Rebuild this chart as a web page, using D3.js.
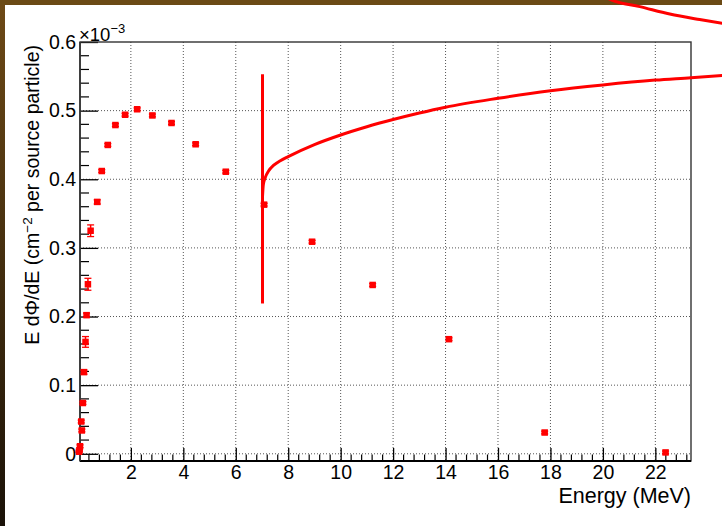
<!DOCTYPE html>
<html>
<head>
<meta charset="utf-8">
<script src="https://cdn.jsdelivr.net/npm/d3@7"></script>
<style>
  html, body { margin: 0; padding: 0; background: #fff; }
  svg { display: block; font-family: "Liberation Sans", Arial, Helvetica, sans-serif; }
</style>
</head>
<body>
<div id="chart"></div>
<script>
// energy bins (MeV) and E dPhi/dE (x 1e-3)
const energy = [0.02, 0.04, 0.06, 0.107, 0.13, 0.17, 0.21, 0.27, 0.31, 0.362, 0.465, 0.717, 0.89, 1.12, 1.41, 1.78, 2.24, 2.82, 3.55, 4.47, 5.62, 7.08, 8.91, 11.22, 14.13, 17.78, 22.39];
const flux   = [0.003, 0.005, 0.011, 0.047, 0.034, 0.074, 0.119, 0.163, 0.202, 0.247, 0.325, 0.367, 0.412, 0.450, 0.479, 0.494, 0.502, 0.493, 0.482, 0.451, 0.411, 0.363, 0.309, 0.246, 0.167, 0.031, 0.002];
const fluxErr = [0.001, 0.001, 0.002, 0.002, 0.002, 0.002, 0.003, 0.0078, 0.003, 0.0087, 0.0085, 0.003, 0.002, 0.002, 0.002, 0.002, 0.002, 0.002, 0.002, 0.002, 0.002, 0.002, 0.002, 0.002, 0.002, 0.002, 0.002];

// fit function
const fitE = [7.02, 7.05, 7.12, 7.25, 7.45, 7.7, 8.0, 9, 10, 11, 12, 13, 14, 16, 18, 20, 22, 23.36, 24.6];
const fitY = [0.375, 0.392, 0.402, 0.412, 0.4205, 0.427, 0.433, 0.4505, 0.4645, 0.4765, 0.487, 0.4965, 0.505, 0.518, 0.529, 0.5375, 0.5445, 0.548, 0.5515];
const spikeE = [7.02, 7.02];
const spikeY = [0.219, 0.553];
// second branch escaping above the frame
const arcE = [19.8, 20.34, 21.41, 22.55, 23.69, 24.6];
const arcY = [0.672, 0.661, 0.6516, 0.6407, 0.6327, 0.627];

const xMajor = [2, 4, 6, 8, 10, 12, 14, 16, 18, 20, 22];
const yMajor = [0, 0.1, 0.2, 0.3, 0.4, 0.5, 0.6];

const width = 722, height = 526;
const mLeft = 80, mRight = 691, mTop = 42, mBottom = 461;

const svg = d3.select('#chart').append('svg')
  .attr('width', width)
  .attr('height', height);

// brown window border
const defs = svg.append('defs');
const grad = defs.append('linearGradient').attr('id', 'lb')
  .attr('x1', 0).attr('y1', 0).attr('x2', 0).attr('y2', 1);
grad.append('stop').attr('offset', '0%').attr('stop-color', '#6e4a16');
grad.append('stop').attr('offset', '100%').attr('stop-color', '#1a1208');
svg.append('rect').attr('x', 0).attr('y', 0).attr('width', 5).attr('height', height).attr('fill', 'url(#lb)');
svg.append('rect').attr('x', 0).attr('y', 0).attr('width', width).attr('height', 5).attr('fill', '#6b4a15');

const x = d3.scaleLinear().domain([0.06, 23.36]).range([mLeft, mRight]);
const y = d3.scaleLinear().domain([-0.0105, 0.6]).range([mBottom, mTop]);

// grid
svg.append('g').selectAll('line').data(xMajor).join('line')
  .attr('x1', d => x(d)).attr('x2', d => x(d))
  .attr('y1', mTop).attr('y2', mBottom)
  .attr('stroke', '#555').attr('stroke-dasharray', '1,2');
svg.append('g').selectAll('line').data(yMajor.filter(d => d < 0.6)).join('line')
  .attr('x1', mLeft).attr('x2', mRight)
  .attr('y1', d => y(d)).attr('y2', d => y(d))
  .attr('stroke', '#555').attr('stroke-dasharray', '1,2');

// minor ticks
const xMinor = d3.range(1, 59).map(i => i * 0.4).filter(v => Math.abs(v / 2 - Math.round(v / 2)) > 0.01 && v < 23.36);
const yMinor = d3.range(1, 30).map(i => i * 0.02).filter(v => Math.abs(v * 10 - Math.round(v * 10)) > 0.01);

svg.append('g').selectAll('line').data(xMinor).join('line')
  .attr('x1', d => x(d)).attr('x2', d => x(d))
  .attr('y1', mBottom).attr('y2', mBottom - 6.5)
  .attr('stroke', '#000').attr('stroke-width', 1.2);
svg.append('g').selectAll('line').data(yMinor).join('line')
  .attr('x1', mLeft).attr('x2', mLeft + 9)
  .attr('y1', d => y(d)).attr('y2', d => y(d))
  .attr('stroke', '#000').attr('stroke-width', 1.2);

// axes
const xAxis = svg.append('g')
  .attr('transform', `translate(0,${mBottom})`)
  .call(d3.axisBottom(x).tickValues(xMajor).tickSize(-13).tickPadding(4).tickFormat(d3.format('d')));
xAxis.select('.domain').remove();
xAxis.selectAll('line').attr('stroke', '#000').attr('stroke-width', 1.3);
xAxis.selectAll('text').attr('font-size', 19.5).attr('fill', '#000').style('font-family', 'Liberation Sans, Arial, sans-serif');

const yAxis = svg.append('g')
  .attr('transform', `translate(${mLeft},0)`)
  .call(d3.axisLeft(y).tickValues(yMajor).tickSize(-18).tickPadding(4)
    .tickFormat(d => d === 0 ? '0' : d3.format('.1f')(d)));
yAxis.select('.domain').remove();
yAxis.selectAll('line').attr('stroke', '#000').attr('stroke-width', 1.3);
yAxis.selectAll('text').attr('font-size', 19.5).attr('fill', '#000').style('font-family', 'Liberation Sans, Arial, sans-serif');

// frame
svg.append('rect')
  .attr('x', mLeft).attr('y', mTop)
  .attr('width', mRight - mLeft).attr('height', mBottom - mTop)
  .attr('fill', 'none').attr('stroke', '#333').attr('stroke-width', 1.4);
svg.append('line').attr('x1', mLeft).attr('x2', mRight).attr('y1', mBottom).attr('y2', mBottom)
  .attr('stroke', '#000').attr('stroke-width', 2);
svg.append('line').attr('x1', mLeft).attr('x2', mLeft).attr('y1', mTop).attr('y2', mBottom)
  .attr('stroke', '#333').attr('stroke-width', 1.6);

// exponent
const expo = svg.append('text').attr('x', 79).attr('y', 41).attr('font-size', 18.5).attr('fill', '#000');
expo.append('tspan').text('\u00d710');
expo.append('tspan').attr('dy', -8).attr('font-size', 13).text('\u22123');

// titles
svg.append('text')
  .attr('x', mRight).attr('y', 503)
  .attr('text-anchor', 'end').attr('font-size', 21.5).attr('fill', '#000')
  .text('Energy (MeV)');

const yt = svg.append('text')
  .attr('transform', `translate(39,${mTop + 3}) rotate(-90)`)
  .attr('text-anchor', 'end').attr('font-size', 19.5).attr('fill', '#000');
yt.append('tspan').text('E d\u03a6/dE (cm');
yt.append('tspan').attr('dy', -7).attr('font-size', 13.5).text('\u22122');
yt.append('tspan').attr('dy', 7).text(' per source particle)');

// fit curves
const line = d3.line().x(d => x(d[0])).y(d => y(d[1])).curve(d3.curveMonotoneX);
svg.append('path').datum(d3.zip(fitE, fitY)).attr('d', line)
  .attr('fill', 'none').attr('stroke', '#ff0000').attr('stroke-width', 3);
svg.append('path').datum(d3.zip(arcE, arcY)).attr('d', line)
  .attr('fill', 'none').attr('stroke', '#ff0000').attr('stroke-width', 3);
svg.append('path').datum(d3.zip(spikeE, spikeY))
  .attr('d', d3.line().x(d => x(d[0])).y(d => y(d[1])))
  .attr('fill', 'none').attr('stroke', '#ff0000').attr('stroke-width', 3);

// data points with error bars
const pts = d3.zip(energy, flux, fluxErr);
const g = svg.append('g');
g.selectAll('.err').data(pts).join('line').attr('class', 'err')
  .attr('x1', d => x(d[0])).attr('x2', d => x(d[0]))
  .attr('y1', d => y(d[1] - d[2])).attr('y2', d => y(d[1] + d[2]))
  .attr('stroke', '#ff0000').attr('stroke-width', 1.5);
g.selectAll('.cap').data(pts.flatMap(d => [[d[0], d[1] - d[2]], [d[0], d[1] + d[2]]])).join('line').attr('class', 'cap')
  .attr('x1', d => x(d[0]) - 3.5).attr('x2', d => x(d[0]) + 3.5)
  .attr('y1', d => y(d[1])).attr('y2', d => y(d[1]))
  .attr('stroke', '#ff0000').attr('stroke-width', 1.3);
g.selectAll('.mk').data(pts).join('rect').attr('class', 'mk')
  .attr('x', d => x(d[0]) - 3.25).attr('y', d => y(d[1]) - 3.25)
  .attr('width', 6.5).attr('height', 6.5)
  .attr('fill', '#ff0000');
</script>
</body>
</html>
